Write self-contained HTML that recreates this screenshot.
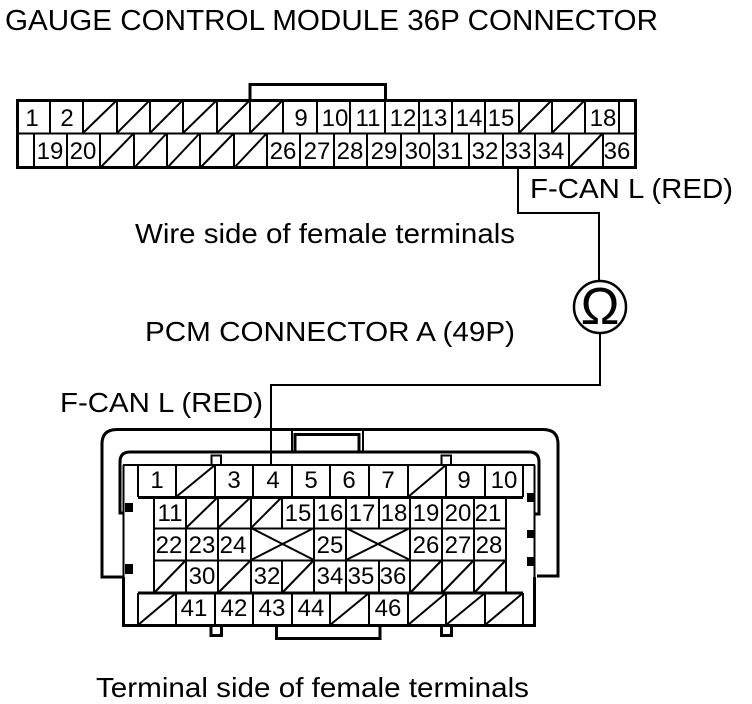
<!DOCTYPE html>
<html><head><meta charset="utf-8"><style>
html,body{margin:0;padding:0;background:#fff}
svg{display:block}
text{font-family:"Liberation Sans",sans-serif;fill:#000}
.n text{font-size:24px;text-anchor:middle}
.t text{font-size:28px}
.c path,.c line,.c polyline{fill:none;stroke:#000}
</style></head><body>
<svg width="752" height="704" viewBox="0 0 752 704" xmlns="http://www.w3.org/2000/svg">
<g class="t">
<text x="5" y="30" style="font-size:29px" textLength="653" lengthAdjust="spacingAndGlyphs">GAUGE CONTROL MODULE 36P CONNECTOR</text>
<text x="530" y="198" textLength="203" lengthAdjust="spacingAndGlyphs">F-CAN L (RED)</text>
<text x="135" y="243" textLength="380" lengthAdjust="spacingAndGlyphs">Wire side of female terminals</text>
<text x="145" y="341" textLength="370" lengthAdjust="spacingAndGlyphs">PCM CONNECTOR A (49P)</text>
<text x="60" y="412" textLength="203" lengthAdjust="spacingAndGlyphs">F-CAN L (RED)</text>
<text x="96" y="697" textLength="433" lengthAdjust="spacingAndGlyphs">Terminal side of female terminals</text>
</g>
<g class="c" stroke-width="2">
<!-- top connector -->
<path stroke-width="3" d="M250 100V84.500H385.500V100"/>
<rect x="17.500" y="100.500" width="618" height="67" fill="none" stroke="#000" stroke-width="3" style="fill:none"/>
<path d="M17 133.500H636"/>
<path d="M50 100V133M83 100V133M117 100V133M150 100V133M183 100V133M217 100V133M250 100V133M283 100V133M317 100V133M350 100V133M385 100V133M419 100V133M452 100V133M485 100V133M519 100V133M552 100V133M585 100V133M619 100V133"/>
<path d="M34 133V168M67 133V168M100 133V168M134 133V168M167 133V168M200 133V168M234 133V168M267 133V168M300 133V168M334 133V168M367 133V168M401 133V168M434 133V168M469 133V168M503 133V168M535 133V168M569 133V168M603 133V168"/>
<path d="M83 133L117 100M117 133L150 100M150 133L183 100M183 133L217 100M217 133L250 100M250 133L283 100M519 133L552 100M552 133L585 100"/>
<path d="M100 168L134 133M134 168L167 133M167 168L200 133M200 168L234 133M234 168L267 133M569 168L603 133"/>
<!-- wires -->
<path d="M518 168V213H599V280"/>
<path d="M600 334V385H271V465"/>
<circle cx="600" cy="307" r="26" style="fill:#fff;stroke:#000" stroke-width="2.500"/>
<!-- bottom connector outer -->
<path stroke-width="3" d="M123 577H102V444Q102 429.500 117 429.500H543Q558 429.500 558 444V576H537"/>
<path stroke-width="3" d="M123 513H120V462Q120 452 130 452H529Q539 452 539 462V514H535"/>
<path stroke-width="2" d="M292 452V430M363 452V430"/>
<path stroke-width="3" d="M295 452V434.500H359V452"/>
<path d="M123 465H535"/>
<path d="M123.500 465V577M534.500 465V577"/>
<path stroke-width="3" d="M123.500 577V625.500H534.500V577"/>
<path stroke-width="3" d="M276.500 626V638.500H380V626"/>
<path stroke-width="2" d="M211.500 465V455.500H221V465M441.500 465V455.500H451V465"/>
<path stroke-width="3" d="M211 626V635.500H221.500V626M441.500 626V635.500H451.500V626"/>
<!-- row A -->
<path d="M138 465V497M176 465V497M215 465V497M253 465V497M292 465V497M330 465V497M369 465V497M408 465V497M446 465V497M485 465V497M523 465V497"/>
<path stroke-width="3" d="M138 497.500H523"/>
<path d="M176 497L215 465M408 497L446 465"/>
<!-- row B -->
<path d="M154 497V593M186 497V560M218 497V528M251 497V593M282 497V528M314 497V593M346 497V593M379 497V528M410 497V593M442 497V528M474 497V528M506 497V593"/>
<path d="M186 528L218 497M218 528L251 497M251 528L282 497"/>
<path stroke-width="2" d="M154 528.500H506M154 560.500H506"/>
<!-- row C -->
<path d="M186 528V560M218 528V560M442 528V560M474 528V560"/>
<path d="M251 528L314 560M251 560L314 528M346 528L410 560M346 560L410 528"/>
<!-- row D -->
<path d="M186 560V593M218 560V593M282 560V593M379 560V593M442 560V593M474 560V593"/>
<path d="M154 593L186 560M218 593L251 560M282 593L314 560M410 593L442 560M442 593L474 560M474 593L506 560"/>
<!-- row E -->
<path stroke-width="3" d="M138 593H523"/>
<path d="M138 593V625M176 593V625M215 593V625M253 593V625M292 593V625M330 593V625M369 593V625M408 593V625M446 593V625M485 593V625M523 593V625"/>
<path d="M138 625L176 593M330 625L369 593M408 625L446 593M446 625L485 593M485 625L523 593"/>
</g>
<rect x="125" y="503" width="8" height="9"/>
<rect x="125" y="564" width="8" height="10"/>
<rect x="527" y="493" width="8" height="9"/>
<rect x="527" y="530" width="8" height="8"/>
<rect x="527" y="557" width="8" height="9"/>
<text x="600" y="324" text-anchor="middle" style="font-size:52px">Ω</text>
<g class="n">
<text x="32" y="126">1</text><text x="67" y="126">2</text><text x="301" y="126">9</text><text x="335" y="126">10</text><text x="368" y="126">11</text><text x="403" y="126">12</text><text x="434" y="126">13</text><text x="469" y="126">14</text><text x="501" y="126">15</text><text x="603" y="126">18</text>
<text x="50" y="159">19</text><text x="83" y="159">20</text><text x="283" y="159">26</text><text x="317" y="159">27</text><text x="350" y="159">28</text><text x="384" y="159">29</text><text x="418" y="159">30</text><text x="450" y="159">31</text><text x="485" y="159">32</text><text x="518" y="159">33</text><text x="551" y="159">34</text><text x="617" y="159">36</text>
<text x="157" y="488">1</text><text x="234" y="488">3</text><text x="273" y="488">4</text><text x="311" y="488">5</text><text x="349" y="488">6</text><text x="388" y="488">7</text><text x="464" y="488">9</text><text x="504" y="488">10</text>
<text x="170" y="521">11</text><text x="298" y="521">15</text><text x="330" y="521">16</text><text x="362" y="521">17</text><text x="394" y="521">18</text><text x="426" y="521">19</text><text x="458" y="521">20</text><text x="488" y="521">21</text>
<text x="169" y="553">22</text><text x="202" y="553">23</text><text x="233" y="553">24</text><text x="330" y="553">25</text><text x="426" y="553">26</text><text x="458" y="553">27</text><text x="489" y="553">28</text>
<text x="202" y="584">30</text><text x="267" y="584">32</text><text x="330" y="584">34</text><text x="361" y="584">35</text><text x="393" y="584">36</text>
<text x="194" y="616">41</text><text x="234" y="616">42</text><text x="272" y="616">43</text><text x="311" y="616">44</text><text x="388" y="616">46</text>
</g>
</svg>
</body></html>
